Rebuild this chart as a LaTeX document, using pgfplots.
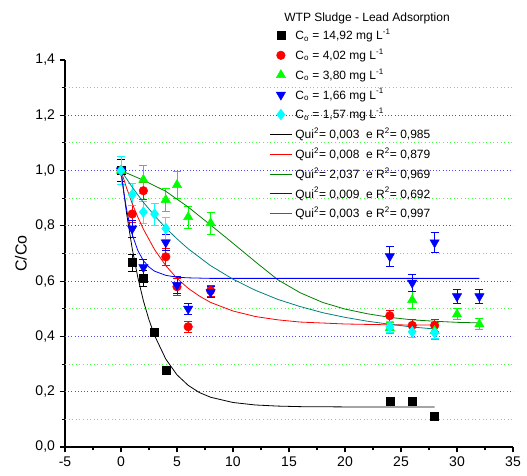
\documentclass[border=0pt]{standalone}
\usepackage{amsmath}
\usepackage{fontspec}
\setmainfont{Liberation Sans}
\usepackage{pgfplots}
\pgfplotsset{compat=1.18}
\definecolor{mgrid}{HTML}{4A4AFF}
\definecolor{ngrid}{HTML}{44FF44}
\definecolor{ptgreen}{HTML}{00FF00}
\definecolor{ptcyan}{HTML}{00FFFF}
\definecolor{fitgreen}{HTML}{008000}
\definecolor{fitteal}{HTML}{008080}
\pgfplotsset{
  pts/.style={only marks, error bars/y dir=both, error bars/y explicit,
    error bars/error bar style={line width=0.6pt},
    error bars/error mark options={rotate=90, mark size=3pt, line width=0.6pt}},
  fit/.style={no marks, line width=0.6pt},
}
\begin{document}
\begin{tikzpicture}
% page box, 1 px of the reference = 0.75pt
\path[use as bounding box] (-48.75pt,-21pt) rectangle (346.5pt,335.25pt);
\begin{axis}[
  scale only axis, width=336pt, height=290.25pt,
  xmin=-5, xmax=35, ymin=0, ymax=1.4,
  axis x line=bottom, axis y line=left,
  axis line style={-, line width=0.8pt},
  xtick={-5,0,...,35}, minor x tick num=1,
  ytick={0,0.2,...,1.4}, minor y tick num=1,
  tick align=outside, tick pos=left,
  major tick length=4pt, minor tick length=2.5pt,
  tick style={black, line width=0.8pt},
  /pgf/number format/assume math mode=true,
  yticklabel style={/pgf/number format/.cd, fixed, fixed zerofill, precision=1, use comma},
  ticklabel style={font=\fontsize{10.5}{12}\selectfont},
  ylabel={C/Co}, ylabel style={font=\fontsize{12}{14}\selectfont, at={(rel axis cs:-0.075,0.5)}},
  extra y ticks={0.2,0.4,...,1.2}, extra y tick labels={},
  extra y tick style={grid=major, major grid style={mgrid, dotted, line width=0.7pt}, tick style={draw=none}},
  clip=false,
  legend style={draw=none, fill=none, at={(rel axis cs:0.455,1.087)}, anchor=north west,
    font=\fontsize{9}{10}\selectfont, row sep=1.35pt, inner sep=0pt},
  legend cell align=left,
]
% minor grid lines
\pgfplotsinvokeforeach{0.1,0.3,0.5,0.7,0.9,1.1,1.3}{
  \draw[ngrid, dotted, line width=0.7pt] (axis cs:-5,#1) -- (axis cs:35,#1);
}
\addplot[pts, mark=square*, mark size=3pt, black] coordinates {
(0,1.0) +- (0,0.04) (1,0.667) +- (0,0.03) (2,0.61) +- (0,0.03) (3,0.414) +- (0,0.015)
(4,0.276) +- (0,0.01) (24,0.167) +- (0,0.0) (26,0.167) +- (0,0.0) (28,0.113) +- (0,0.0)
};
\addlegendentry{C$_{\text{o}}$ = 14,92 mg L$^{\text{-1}}$}
\addplot[pts, mark=*, mark size=3.2pt, red] coordinates {
(0,1.0) +- (0,0.05) (1,0.843) +- (0,0.03) (2,0.927) +- (0,0.03) (4,0.688) +- (0,0.03)
(5,0.58) +- (0,0.03) (6,0.435) +- (0,0.02) (8,0.566) +- (0,0.02) (24,0.475) +- (0,0.02)
(26,0.44) +- (0,0.02) (28,0.44) +- (0,0.02)
};
\addlegendentry{C$_{\text{o}}$ = 4,02 mg L$^{\text{-1}}$}
\addplot[pts, mark=triangle*, mark size=4pt, ptgreen] coordinates {
(0,1.0) +- (0,0.05) (2,0.967) +- (0,0.05) (4,0.894) +- (0,0.04) (5,0.948) +- (0,0.05)
(6,0.832) +- (0,0.04) (8,0.81) +- (0,0.04) (24,0.43) +- (0,0.02) (26,0.532) +- (0,0.03)
(28,0.42) +- (0,0.03) (30,0.48) +- (0,0.02) (32,0.444) +- (0,0.02)
};
\addlegendentry{C$_{\text{o}}$ = 3,80 mg L$^{\text{-1}}$}
\addplot[pts, mark=triangle*, mark size=4pt, mark options={rotate=180}, blue] coordinates {
(0,1.0) +- (0,0.05) (1,0.79) +- (0,0.03) (2,0.65) +- (0,0.03) (4,0.74) +- (0,0.03)
(5,0.586) +- (0,0.03) (6,0.50) +- (0,0.02) (8,0.56) +- (0,0.02) (24,0.69) +- (0,0.035)
(26,0.594) +- (0,0.03) (28,0.74) +- (0,0.035) (30,0.545) +- (0,0.025) (32,0.545) +- (0,0.025)
};
\addlegendentry{C$_{\text{o}}$ = 1,66 mg L$^{\text{-1}}$}
\addplot[pts, mark=diamond*, mark size=4pt, ptcyan] coordinates {
(0,1.0) +- (0,0.05) (1,0.913) +- (0,0.04) (2,0.85) +- (0,0.04) (3,0.843) +- (0,0.04)
(4,0.79) +- (0,0.04) (24,0.435) +- (0,0.02) (26,0.417) +- (0,0.02) (28,0.413) +- (0,0.02)
};
\addlegendentry{C$_{\text{o}}$ = 1,57 mg L$^{\text{-1}}$}
% fitted curves
\addplot[fit, black] coordinates {
(0,1.0) (0.5,0.845) (1,0.718) (1.5,0.614) (2,0.529) (2.5,0.46) (3,0.403) (4,0.318)
(5,0.261) (6,0.223) (7,0.197) (8,0.18) (10,0.161) (12,0.152) (14,0.148) (16,0.146)
(20,0.145) (24,0.145) (28,0.145)
};
\addlegendentry{Qui$^{\text{2}}$= 0,003\ \ e R$^{\text{2}}$= 0,985}
\addplot[fit, red] coordinates {
(0,1.0) (0.5,0.937) (1,0.881) (1.5,0.832) (2,0.788) (3,0.714) (4,0.656) (5,0.61)
(6,0.574) (7,0.546) (8,0.523) (10,0.492) (12,0.472) (14,0.46) (16,0.452) (20,0.445)
(24,0.442) (28,0.441)
};
\addlegendentry{Qui$^{\text{2}}$= 0,008\ \ e R$^{\text{2}}$= 0,879}
\addplot[fit, fitgreen] coordinates {
(0,1.0) (2,0.965) (4,0.925) (6,0.868) (8,0.803) (10,0.737) (12,0.67) (14,0.605)
(16,0.558) (18,0.523) (20,0.499) (22,0.482) (24,0.469) (26,0.46) (28,0.455)
(30,0.451) (32,0.449)
};
\addlegendentry{Qui$^{\text{2}}$= 2,037\ \ e R$^{\text{2}}$= 0,969}
\addplot[fit, blue] coordinates {
(0,1.0) (0.25,0.921) (0.5,0.859) (0.75,0.809) (1,0.769) (1.5,0.711) (2,0.674)
(2.5,0.651) (3,0.636) (4,0.621) (5,0.614) (6,0.612) (8,0.61) (32,0.61)
};
\addlegendentry{Qui$^{\text{2}}$= 0,009\ \ e R$^{\text{2}}$= 0,692}
\addplot[fit, fitteal] coordinates {
(0,1.0) (1,0.94) (2,0.885) (3,0.837) (4,0.792) (5,0.753) (6,0.717) (8,0.656)
(10,0.607) (12,0.567) (14,0.534) (16,0.508) (18,0.486) (20,0.469) (22,0.455)
(24,0.444) (26,0.434) (28,0.427)
};
\addlegendentry{Qui$^{\text{2}}$= 0,003\ \ e R$^{\text{2}}$= 0,997}
\node[anchor=south west, font=\fontsize{9}{10}\selectfont, inner sep=0pt]
  at (rel axis cs:0.489,1.092) {WTP Sludge - Lead Adsorption};
\end{axis}
\end{tikzpicture}
\end{document}
